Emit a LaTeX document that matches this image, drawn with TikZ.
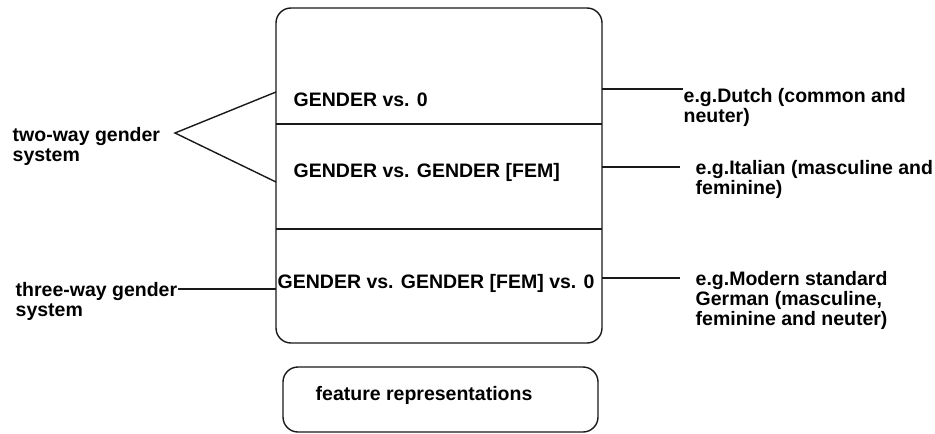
\documentclass[tikz,border=0pt]{standalone}
\usepackage{fontspec}
\setmainfont{Liberation Sans}
\usetikzlibrary{positioning, calc}
\definecolor{linecol}{RGB}{25,25,25}

\begin{document}
\begin{tikzpicture}[x=1pt, y=-1pt, line width=1.4pt, draw=linecol,
    lbl/.style={font=\bfseries\fontsize{19.5}{20}\selectfont, inner sep=0pt, align=left, anchor=base west},
    panel/.style={draw=linecol, rounded corners=15pt, inner sep=0pt}]
    \useasboundingbox (0,0) rectangle (935,434);
    % main box with its three rows
    \node[panel, minimum width=326pt, minimum height=335pt] (box) at (439,175.5) {};
    \draw[linecol] (276,124) -- (602,124);
    \draw[linecol] (276,229) -- (602,229);
    \node[lbl] (row1) at (293,106) {GENDER vs. 0};
    \node[lbl] (row2) at (293,177) {GENDER vs. GENDER [FEM]};
    \node[lbl] (row3) at (277,288) {GENDER vs. GENDER [FEM] vs. 0};
    % legend box
    \node[panel, minimum width=315pt, minimum height=65pt] (feat) at (440.5,399.5) {};
    \node[lbl] (featlbl) at (315,400) {feature representations};
    % left labels (base = last line)
    \node[lbl] (twoway) at (12,161) {two-way gender\\system};
    \node[lbl] (threeway) at (15,316) {three-way gender\\system};
    \coordinate (apex) at (175,133);
    \coordinate (in1) at (276,92);
    \coordinate (in2) at (276,182);
    \coordinate (tw) at (178,289);
    \coordinate (in3) at (276,289);
    \draw[linecol] (in1) -- (apex) -- (in2);
    \draw[linecol] (tw) -- (in3);
    % right labels
    \node[lbl] (dutch) at (683,122) {e.g.Dutch (common and\\neuter)};
    \node[lbl] (italian) at (695,194) {e.g.Italian (masculine and\\feminine)};
    \node[lbl] (german) at (695,325) {e.g.Modern standard\\German (masculine,\\feminine and neuter)};
    \coordinate (out1) at (602,89);
    \coordinate (out2) at (602,167);
    \coordinate (out3) at (602,278);
    \draw[linecol] (out1) -- (out1 -| dutch.west);
    \draw[linecol] (out2) -- ($(out2 -| italian.west)+(-15,0)$);
    \draw[linecol] (out3) -- ($(out3 -| german.west)+(-15,0)$);
\end{tikzpicture}
\end{document}
